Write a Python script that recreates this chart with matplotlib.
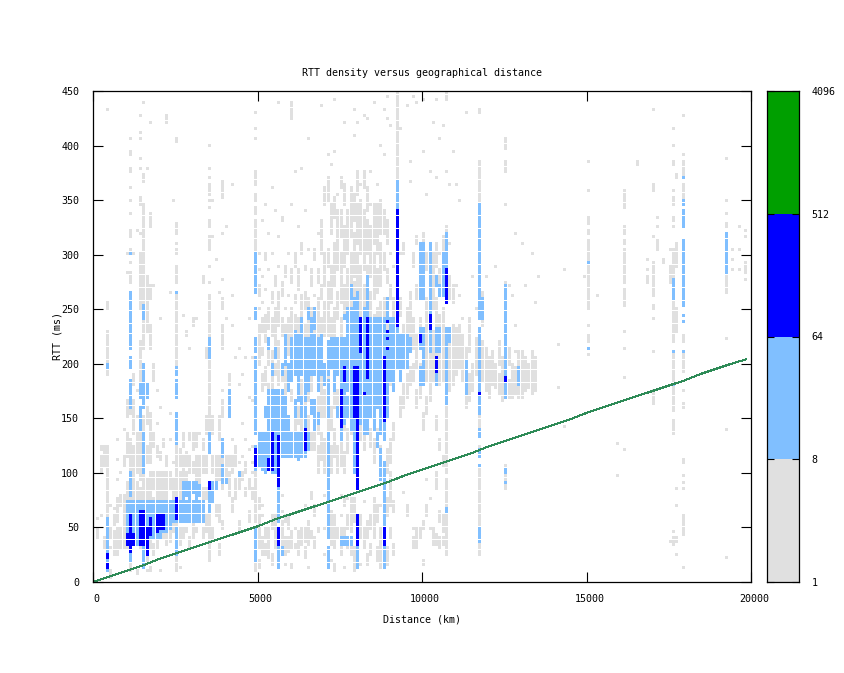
import numpy as np
import matplotlib
matplotlib.use("Agg")
import matplotlib.pyplot as plt
from matplotlib.transforms import ScaledTranslation

plt.rcParams['font.family'] = ['DejaVu Sans Mono']

# propagation line (km, ms)
line_km = [0, 500, 1000, 1500, 2000, 2500, 3000, 3500, 4000, 4500, 5000, 5500, 6000, 6500, 7000, 7500, 8000, 8500,
           9000, 9500, 10000, 10500, 11000, 11500, 12000, 12500, 13000, 13500, 14000, 14500, 15000, 15500, 16000,
           16500, 17000, 17500, 18000, 18500, 19000, 19500, 19850]
line_ms = [0, 5, 10, 15, 21, 26, 31, 36, 41, 46, 51, 57, 62, 67, 72, 77, 82, 87, 92, 98, 103, 108, 113, 118, 124,
           129, 134, 139, 144, 149, 155, 160, 165, 170, 175, 180, 185, 191, 196, 201, 204]

# grey cells per column: (km, [(ms_lo, ms_hi), ...])
gray_left = [
    (100, [(40, 50), (58, 58)]), (200, [(60, 62), (100, 115), (120, 125)]), (300, [(30, 40), (105, 125)]),
    (400, [(57, 125), (190, 230), (250, 255), (434, 434)]), (500, [(5, 10), (30, 30), (40, 50), (70, 70)]),
    (600, [(25, 45), (52, 60), (68, 68)]), (700, [(25, 50), (55, 75), (95, 95), (112, 112), (130, 130)]),
    (800, [(30, 50), (70, 80), (100, 100)]), (900, [(30, 60), (65, 80), (105, 115), (140, 140)]),
    (1000, [(30, 45), (50, 60), (75, 90), (115, 135), (150, 165), (284, 284), (301, 301)]),
    (1100, [(10, 30), (62, 130), (155, 160), (273, 280), (284, 284), (292, 292), (301, 305), (317, 322), (338, 338),
            (350, 350), (362, 362), (376, 380), (392, 395), (407, 407)]),
    (1200, [(60, 75), (80, 125), (135, 165), (180, 190), (301, 301)]),
    (1300, [(8, 10), (35, 50), (65, 90), (100, 135), (150, 150), (175, 175), (322, 322)]),
    (1400, [(30, 35), (65, 85), (95, 135), (150, 150), (180, 220), (250, 300), (320, 320), (347, 353), (380, 380),
            (389, 389), (407, 407), (413, 413), (427, 427)]),
    (1500, [(20, 30), (65, 100), (135, 150), (180, 180), (200, 200), (215, 240), (252, 345), (367, 374), (440, 440)]),
    (1600, [(10, 10), (20, 35), (75, 95), (110, 125), (145, 160), (230, 280), (380, 380)]),
    (1700, [(10, 12), (30, 40), (75, 100), (110, 135), (140, 155), (215, 235), (260, 270), (326, 338), (420, 420)]),
    (1800, [(25, 35), (62, 75), (85, 100), (125, 135), (185, 200), (270, 270)]),
    (1900, [(30, 40), (75, 100), (115, 125), (145, 145), (175, 175)]),
    (2000, [(10, 10), (40, 50), (72, 100), (112, 118), (160, 160), (240, 240)]),
    (2100, [(40, 50), (75, 100), (125, 130)]), (2200, [(35, 45), (75, 100), (105, 115), (422, 427)]),
    (2300, [(38, 50), (85, 100), (130, 130), (155, 155), (265, 265)]), (2400, [(45, 55), (75, 95), (110, 110), (350, 350)]),
    (2500, [(10, 30), (30, 125), (190, 262), (275, 290), (301, 305), (310, 310), (320, 329), (403, 407)]),
    (2600, [(12, 12), (35, 50), (75, 100), (105, 120)]), (2700, [(40, 50), (92, 115), (125, 135), (245, 245)]),
    (2800, [(45, 50), (92, 100), (105, 118), (225, 230)]), (2900, [(32, 40), (100, 115), (130, 135), (215, 215)]),
    (3000, [(40, 55), (100, 110), (120, 135), (235, 240)]), (3100, [(45, 50), (65, 72), (95, 115), (125, 135), (240, 240)]),
    (3200, [(55, 65), (92, 115), (135, 135)]), (3300, [(40, 50), (72, 85), (100, 115), (120, 130), (275, 280)]),
    (3400, [(45, 60), (75, 85), (100, 115), (135, 150), (205, 215)]),
    (3500, [(20, 60), (135, 205), (222, 262), (275, 275), (289, 289), (303, 313), (317, 317), (324, 332), (343, 343),
            (350, 350), (355, 363), (371, 371), (380, 380), (401, 401)]),
    (3600, [(40, 50), (72, 82), (100, 115), (135, 150), (350, 350), (315, 315)]), (3700, [(60, 70), (92, 115), (295, 295)]),
    (3800, [(25, 35), (55, 70), (95, 115), (130, 150), (265, 265)]),
    (3900, [(50, 55), (85, 90), (105, 115), (150, 165), (175, 175), (215, 235), (250, 260), (277, 277), (319, 319),
            (352, 366)]),
    (4000, [(95, 115), (240, 240), (326, 326)]), (4100, [(80, 100), (105, 115), (180, 190)]),
    (4200, [(65, 75), (100, 115), (130, 130), (236, 236), (263, 263), (365, 365)]),
    (4300, [(75, 95), (105, 125), (205, 205)]), (4400, [(45, 55), (85, 100), (110, 110), (180, 180), (215, 215)]),
    (4500, [(95, 100), (115, 115), (145, 145), (190, 190)]), (4600, [(80, 85), (100, 110), (130, 130), (205, 205)]),
    (4700, [(55, 65), (85, 95), (120, 120), (170, 170), (240, 240)]),
    (4800, [(75, 85), (100, 100), (110, 110), (125, 125), (165, 165), (205, 205)]),
    (4900, [(10, 40), (55, 100), (300, 315), (320, 332), (337, 343), (350, 355), (364, 372), (376, 376), (407, 407),
            (416, 416), (431, 431)]),
]
gray_mid = [
    (5000, [(12, 20), (30, 60), (68, 75), (200, 235), (250, 250), (262, 270), (285, 285), (300, 300)]),
    (5100, [(25, 40), (62, 62), (70, 70), (175, 190), (208, 215), (228, 240), (255, 255), (280, 280), (330, 330)]),
    (5200, [(25, 35), (40, 50), (180, 196), (220, 245), (268, 268), (295, 300), (345, 345)]),
    (5300, [(22, 50), (172, 180), (200, 216), (232, 250), (285, 285), (318, 318)]),
    (5400, [(15, 25), (50, 60), (176, 210), (225, 240), (255, 265), (300, 300), (360, 360)]),
    (5500, [(30, 60), (190, 200), (215, 250), (270, 280), (340, 340)]),
    (5600, [(180, 220), (235, 265), (290, 290), (315, 315), (438, 438)]),
    (5700, [(25, 55), (65, 65), (78, 78), (185, 195), (225, 240), (262, 275), (330, 335)]),
    (5800, [(15, 15), (25, 40), (55, 60), (172, 200), (210, 235), (250, 250), (280, 290)]),
    (5900, [(28, 40), (50, 60), (176, 190), (208, 240), (262, 262), (300, 300)]),
    (6000, [(12, 15), (30, 45), (165, 175), (195, 205), (222, 250), (275, 285), (345, 345), (425, 440)]),
    (6100, [(30, 35), (50, 50), (130, 150), (225, 245), (255, 262), (290, 300), (375, 375)]),
    (6200, [(25, 45), (65, 65), (145, 160), (218, 240), (268, 285), (325, 325)]),
    (6300, [(35, 50), (135, 155), (170, 185), (222, 262), (300, 310), (378, 378)]),
    (6400, [(22, 30), (38, 50), (70, 70), (140, 165), (215, 235), (250, 265), (285, 290), (340, 340)]),
    (6500, [(12, 12), (35, 55), (136, 150), (165, 180), (225, 260), (305, 305), (405, 405)]),
    (6600, [(40, 45), (75, 82), (120, 135), (175, 190), (228, 250), (270, 285)]),
    (6700, [(32, 40), (60, 70), (120, 150), (218, 245), (262, 262), (295, 305)]),
    (6800, [(45, 50), (100, 125), (135, 170), (225, 260), (275, 285), (320, 320)]),
    (6900, [(112, 135), (150, 190), (220, 240), (260, 270), (300, 330), (437, 437)]),
    (7000, [(25, 25), (50, 50), (78, 78), (100, 130), (150, 175), (225, 255), (270, 300), (345, 360)]),
    (7100, [(135, 200), (225, 275), (290, 305), (350, 370), (390, 390)]),
    (7200, [(20, 20), (35, 65), (100, 125), (140, 160), (205, 240), (255, 290), (320, 345), (383, 383)]),
    (7300, [(10, 15), (32, 60), (115, 140), (160, 190), (222, 250), (270, 310), (335, 352), (395, 395), (443, 443)]),
    (7400, [(40, 50), (100, 125), (150, 175), (240, 265), (285, 340), (355, 355)]),
    (7500, [(25, 50), (60, 60), (80, 80), (105, 138), (225, 240), (255, 300), (315, 340), (360, 370)]),
    (7600, [(12, 12), (40, 50), (70, 75), (100, 118), (140, 155), (240, 270), (290, 325), (345, 365), (422, 422)]),
    (7700, [(30, 40), (50, 60), (75, 75), (118, 140), (240, 285), (300, 340)]),
    (7800, [(25, 30), (45, 75), (135, 150), (240, 300), (315, 360)]),
    (7900, [(10, 30), (55, 75), (240, 275), (280, 320), (330, 355), (410, 410), (433, 433)]),
    (8000, [(240, 300), (310, 345), (355, 375), (420, 420)]),
    (8100, [(15, 15), (40, 60), (130, 145), (235, 290), (300, 350), (365, 365)]),
    (8200, [(30, 50), (72, 72), (120, 145), (230, 270), (285, 340), (360, 375), (428, 428)]),
    (8300, [(15, 25), (40, 55), (135, 150), (240, 290), (300, 330), (340, 360), (423, 423)]),
    (8400, [(25, 35), (50, 60), (125, 140), (225, 265), (280, 325), (345, 345), (376, 376)]),
    (8500, [(40, 75), (110, 130), (228, 245), (260, 300), (310, 345), (440, 440)]),
    (8600, [(20, 30), (55, 70), (125, 140), (225, 250), (265, 285), (300, 345), (365, 365)]),
    (8700, [(12, 50), (70, 70), (100, 125), (225, 255), (270, 310), (320, 350), (400, 400)]),
    (8800, [(85, 110), (230, 260), (285, 300), (320, 340), (392, 392), (434, 434)]),
    (8900, [(15, 30), (60, 75), (100, 120), (176, 190), (225, 250), (275, 285), (310, 330), (423, 423), (445, 445)]),
    (9000, [(40, 50), (70, 100), (110, 130), (180, 195), (222, 240), (260, 270), (300, 300), (417, 417)]),
    (9100, [(25, 35), (65, 72), (130, 145), (200, 215), (240, 258), (290, 290)]),
    (9200, [(366, 450)]),
]
gray_right = [
    (9300, [(150, 170), (245, 260), (300, 300), (415, 415)]), (9400, [(82, 82), (160, 180), (195, 195), (225, 235), (300, 310)]),
    (9500, [(60, 70), (170, 190), (225, 250), (436, 436)]), (9600, [(180, 196), (225, 265), (368, 368), (385, 385)]),
    (9700, [(30, 40), (50, 50), (185, 200), (215, 240), (290, 300), (446, 446)]),
    (9800, [(30, 50), (160, 175), (195, 225), (260, 270), (310, 315), (440, 440)]), (9900, [(40, 48), (170, 200), (225, 240), (300, 300)]),
    (10000, [(15, 20), (50, 55), (140, 155), (262, 270), (312, 318), (395, 395), (443, 443)]),
    (10100, [(60, 70), (95, 95), (155, 170), (185, 260), (285, 300), (355, 355)]),
    (10200, [(50, 50), (75, 75), (165, 215), (375, 375)]), (10300, [(35, 50), (185, 230), (250, 300), (420, 420)]),
    (10400, [(35, 42), (85, 100), (140, 150), (190, 260), (290, 310), (443, 443), (370, 370)]),
    (10500, [(30, 40), (55, 65), (120, 130), (180, 245), (270, 285), (300, 300), (405, 405)]),
    (10600, [(33, 40), (45, 60), (105, 115), (185, 250), (295, 315), (418, 418)]),
    (10700, [(25, 95), (100, 160), (300, 325), (375, 375), (443, 448)]),
    (10800, [(175, 220), (260, 280), (310, 310), (365, 365)]), (10900, [(182, 235), (255, 270), (395, 395)]),
    (11000, [(190, 232), (270, 270), (365, 365)]), (11100, [(195, 235), (262, 262), (350, 350)]),
    (11200, [(185, 225), (240, 240)]), (11300, [(160, 172), (200, 215), (430, 430)]), (11400, [(165, 190), (210, 240)]),
    (11500, [(175, 200), (280, 280)]), (11600, [(190, 222), (250, 250)]),
    (11700, [(24, 36), (52, 106), (118, 125), (140, 170), (345, 384), (430, 434)]),
    (11800, [(185, 220), (235, 265)]), (11900, [(175, 215), (280, 280)]), (12000, [(170, 205)]), (12100, [(180, 210)]),
    (12200, [(178, 200), (290, 290)]), (12300, [(172, 190), (200, 220)]), (12400, [(165, 205)]),
    (12500, [(85, 105), (270, 275), (345, 345), (376, 384), (397, 407)]), (12600, [(170, 185), (200, 215), (270, 270)]),
    (12700, [(170, 200), (262, 262)]), (12800, [(172, 195), (212, 212), (320, 320), (235, 235)]),
    (12900, [(170, 180), (200, 212)]), (13000, [(170, 210), (310, 310)]), (13100, [(175, 205), (270, 270)]), (13200, [(178, 200)]),
    (13300, [(172, 210), (300, 300)]), (13400, [(175, 205), (255, 255)]), (13500, [(280, 280)]),
    (14100, [(217, 217), (179, 179)]), (14300, [(286, 286), (143, 143)]), (14900, [(280, 280)]), (15300, [(263, 263)]),
    (15000, [(208, 208), (220, 227), (235, 235), (250, 291), (294, 313), (318, 323), (329, 334), (359, 359), (385, 385)]),
    (15900, [(98, 98), (128, 128)]),
    (16100, [(122, 122), (187, 187), (215, 215), (229, 229), (252, 269), (274, 305), (309, 313), (318, 326), (343, 343),
             (346, 359)]),
    (16500, [(382, 385)]), (16800, [(275, 279), (286, 286), (295, 295)]),
    (17000, [(162, 176), (212, 212), (242, 242), (250, 254), (263, 270), (274, 292), (317, 317), (358, 363), (434, 434)]),
    (17100, [(305, 313), (326, 326), (334, 334)]), (17300, [(292, 295)]), (17500, [(37, 37), (275, 290), (305, 305)]),
    (17600, [(34, 41), (46, 46), (136, 141), (145, 145), (149, 149), (157, 180), (184, 208), (219, 230), (233, 257),
             (277, 303), (326, 326), (330, 335), (346, 353), (359, 359), (382, 385), (401, 401), (416, 416)]),
    (17700, [(26, 26), (36, 41), (70, 70), (86, 86), (230, 250), (290, 310), (370, 373)]),
    (17900, [(13, 13), (43, 53), (55, 61), (86, 86), (91, 91), (98, 98), (109, 113), (160, 164), (176, 176), (193, 208),
             (220, 227), (352, 365), (373, 384), (391, 391), (427, 427)]),
    (19200, [(22, 22), (140, 140), (224, 224), (265, 282), (324, 329), (338, 338), (349, 349), (389, 389)]),
    (19400, [(286, 286), (305, 305), (295, 295)]), (19600, [(286, 286), (305, 305), (326, 326)]),
    (19800, [(284, 292), (277, 277), (317, 317), (323, 323)]),
]

# light blue cells per column: (km, [(ms_lo, ms_hi), ...])
light_cols = [
    (400, [(10, 57), (197, 199)]), (1000, [(35, 72)]), (1100, [(20, 72), (80, 100), (160, 185), (195, 205), (215, 265), (300, 300)]),
    (1200, [(35, 72)]), (1300, [(35, 72)]), (1400, [(35, 72), (140, 160), (170, 180)]),
    (1500, [(12, 72), (100, 135), (160, 200), (240, 252)]), (1600, [(35, 72), (170, 180)]), (1700, [(40, 72)]),
    (1800, [(40, 72)]), (1900, [(40, 72)]), (2000, [(40, 72)]), (2100, [(45, 72)]), (2200, [(45, 72)]), (2300, [(50, 72)]),
    (2400, [(55, 72)]), (2500, [(25, 50), (55, 72), (127, 153), (170, 185), (190, 195), (264, 266)]),
    (2600, [(55, 72)]), (2700, [(55, 72), (76, 92)]), (2800, [(55, 72), (80, 92)]), (2900, [(55, 72), (76, 92)]),
    (3000, [(55, 72), (82, 92)]), (3100, [(55, 72), (76, 92)]), (3200, [(55, 72), (80, 88)]), (3300, [(55, 72)]),
    (3500, [(65, 92), (117, 135), (205, 222)]), (3600, [(72, 92)]), (3700, [(84, 90)]), (3900, [(90, 105), (115, 130)]),
    (4100, [(150, 175)]), (4000, [(90, 95)]), (4400, [(98, 100)]),
    (4900, [(20, 50), (103, 125), (135, 205), (212, 222), (240, 250), (265, 300)]), (5000, [(105, 135)]),
    (5100, [(103, 135)]), (5200, [(100, 135), (150, 160)]), (5300, [(103, 135), (140, 176), (215, 222)]),
    (5400, [(100, 176), (190, 200)]), (5500, [(100, 176), (205, 215)]), (5600, [(12, 50), (55, 90), (100, 176)]),
    (5700, [(25, 30), (115, 176), (190, 200)]), (5800, [(115, 170), (200, 225)]), (5900, [(115, 135), (140, 150), (175, 200)]),
    (6000, [(115, 135), (185, 222)]), (6100, [(115, 135), (150, 165), (190, 230)]), (6200, [(112, 135), (165, 225)]),
    (6300, [(115, 135), (150, 170), (190, 240)]), (6400, [(115, 160), (165, 222)]), (6500, [(120, 135), (175, 222), (240, 250)]),
    (6600, [(155, 165), (190, 240)]), (6700, [(140, 165), (190, 225), (232, 250)]), (6800, [(145, 155), (175, 222)]),
    (6900, [(190, 225)]), (7000, [(180, 200)]), (7100, [(12, 30), (40, 135), (150, 185), (190, 220)]), (7200, [(195, 222)]),
    (7300, [(176, 222)]), (7400, [(150, 160), (190, 222)]), (7500, [(35, 40), (130, 222)]), (7600, [(35, 40), (145, 222), (240, 245)]),
    (7700, [(35, 40), (150, 170), (176, 250)]), (7800, [(35, 40), (140, 250), (260, 270)]), (7900, [(100, 260)]),
    (8000, [(12, 30), (100, 135), (140, 265)]), (8100, [(145, 222)]), (8200, [(135, 250)]), (8300, [(135, 190), (240, 280)]),
    (8400, [(150, 240)]), (8500, [(140, 240)]), (8600, [(125, 135), (160, 240)]), (8700, [(95, 120), (135, 240)]),
    (8800, [(12, 110), (130, 240)]), (8900, [(150, 230), (240, 258)]), (9000, [(185, 240)]), (9100, [(176, 225), (230, 240)]),
    (9200, [(196, 240), (240, 366)]), (9300, [(185, 225)]), (9400, [(196, 225)]), (9500, [(195, 225)]), (9600, [(210, 222)]),
    (9900, [(180, 197), (213, 231), (260, 309)]), (10000, [(180, 210), (213, 231), (260, 309)]),
    (10200, [(211, 309)]), (10400, [(180, 200), (211, 231), (270, 280)]), (10500, [(211, 231), (262, 270)]),
    (10600, [(262, 300)]), (10700, [(162, 219), (220, 231), (255, 320)]), (10800, [(220, 231)]),
    (11300, [(173, 202)]), (11700, [(36, 40), (43, 50), (107, 107), (116, 122), (133, 138), (155, 231), (240, 345)]),
    (11800, [(240, 260)]), (12500, [(90, 92), (101, 103), (168, 270)]), (12900, [(180, 197)]), (10700, [(65, 67)]),
    (15000, [(215, 215), (292, 292)]), (17600, [(182, 182), (212, 212), (259, 259), (263, 276)]),
    (17900, [(212, 212), (238, 238), (245, 245), (253, 313), (324, 335), (337, 341), (346, 350), (371, 371)]),
    (19200, [(283, 306), (309, 318)]),
]

# blue cells per column: (km, [(ms_lo, ms_hi), ...])
blue_cols = [
    (400, [(13, 15), (22, 24)]), (1000, [(34, 42)]), (1100, [(28, 32), (34, 60)]), (1200, [(34, 42)]),
    (1400, [(34, 42), (47, 63)]), (1500, [(34, 63)]), (1600, [(26, 34), (34, 50)]), (1700, [(43, 57)]), (1900, [(47, 60)]),
    (2000, [(49, 60)]), (2100, [(49, 60)]), (2500, [(57, 75)]), (3500, [(84, 90)]), (4900, [(105, 120)]), (5300, [(103, 113)]),
    (5400, [(103, 135)]), (5600, [(34, 50), (88, 132)]), (6400, [(121, 138)]), (7500, [(142, 176)]), (7600, [(184, 196)]),
    (7900, [(150, 197)]), (8000, [(35, 60), (86, 197)]), (8100, [(210, 240)]), (8200, [(173, 173)]), (8300, [(187, 240)]),
    (8800, [(35, 50), (148, 205)]), (8900, [(215, 215), (222, 222), (229, 229), (238, 238)]), (9200, [(234, 339)]),
    (9900, [(220, 226)]), (10200, [(231, 245)]), (10400, [(193, 205)]), (10700, [(255, 287)]), (11700, [(173, 173)]),
    (12500, [(184, 188)]),
]

# colour bar breaks and their colours
bar_ticks = [1, 8, 64, 512, 4096]
bar_colors = ['#e0e0e0', '#80bfff', '#0000ff', '#009f00']


def fill(grid, cols, level):
    for km, runs in cols:
        for lo, hi in runs:
            grid[lo // 3:min(hi // 3 + 1, 150), km // 100] = level


grid = np.zeros((150, 200), dtype=int)
fill(grid, gray_left, 1)
fill(grid, gray_mid, 1)
fill(grid, gray_right, 1)
fill(grid, light_cols, 2)
fill(grid, blue_cols, 3)

fig = plt.figure(figsize=(8.45, 6.73), dpi=100)
ax = fig.add_axes([93 / 845, 1 - 582 / 673, 658 / 845, 491 / 673])

# cells are 3 px wide, rounding leaves the white gaps like gnuplot
cell_w = 3.0 * 20000 / 658
cell_h = 3.0 * 450 / 491
for level in [1, 2, 3]:
    rows, cols = np.nonzero(grid == level)
    ax.bar(cols * 100, cell_h, width=cell_w, bottom=rows * 3, align='edge', color=bar_colors[level - 1],
           linewidth=0, antialiased=False)

ax.plot(line_km, line_ms, color='#2e8b57', lw=0.72, antialiased=False)

ax.set_xlim(0, 20000)
ax.set_ylim(0, 450)
ax.set_xticks([0, 5000, 10000, 15000, 20000])
ax.set_yticks(range(0, 451, 50))
ax.tick_params(direction='in', top=True, right=True, length=7, width=0.8, labelsize=7.2, color='black')
ax.tick_params(axis='x', pad=9)
ax.tick_params(axis='y', pad=10)
shift = ScaledTranslation(3 / 100, 0, fig.dpi_scale_trans)
for label in ax.get_xticklabels():
    label.set_transform(label.get_transform() + shift)
for spine in ax.spines.values():
    spine.set_linewidth(0.9)
ax.set_title('RTT density versus geographical distance', fontsize=7.2, pad=11)
ax.set_xlabel('Distance (km)', fontsize=7.2, labelpad=7)
ax.set_ylabel('RTT (ms)', fontsize=7.2, labelpad=-1)

cax = fig.add_axes([767 / 845, 1 - 582 / 673, 32 / 845, 491 / 673])
for i in range(4):
    cax.bar(0, np.log2(bar_ticks[i + 1]) - np.log2(bar_ticks[i]), width=1, bottom=np.log2(bar_ticks[i]), align='edge',
            color=bar_colors[i], linewidth=0, antialiased=False)
cax.set_xlim(0, 1)
cax.set_ylim(0, 12)
cax.set_xticks([])
cax.set_yticks(np.log2(bar_ticks))
cax.set_yticklabels([str(t) for t in bar_ticks], fontsize=7.2)
cax.yaxis.tick_right()
cax.tick_params(axis='y', direction='in', left=True, right=True, length=5, width=0.8, pad=9)
for spine in cax.spines.values():
    spine.set_linewidth(0.9)

fig.savefig('out.png', dpi=100)
